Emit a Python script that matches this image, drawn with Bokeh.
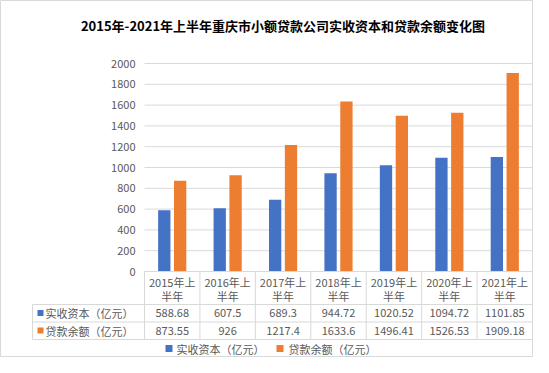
from bokeh.plotting import figure
from bokeh.models import ColumnDataSource, Range1d
from bokeh.transform import dodge
from bokeh.core.properties import value
from bokeh.embed import file_html
from bokeh.resources import INLINE

# ---------------- data ----------------
title_text = "2015年-2021年上半年重庆市小额贷款公司实收资本和贷款余额变化图"
header_line1 = ["2015年上", "2016年上", "2017年上", "2018年上", "2019年上", "2020年上", "2021年上"]
header_line2 = ["半年", "半年", "半年", "半年", "半年", "半年", "半年"]
paid_in = [588.68, 607.5, 689.3, 944.72, 1020.52, 1094.72, 1101.85]
loans = [873.55, 926, 1217.4, 1633.6, 1496.41, 1526.53, 1909.18]
paid_in_labels = ["588.68", "607.5", "689.3", "944.72", "1020.52", "1094.72", "1101.85"]
loans_labels = ["873.55", "926", "1217.4", "1633.6", "1496.41", "1526.53", "1909.18"]
series_names = ["实收资本（亿元）", "贷款余额（亿元）"]
y_ticks = [0, 200, 400, 600, 800, 1000, 1200, 1400, 1600, 1800, 2000]

# ---------------- layout (figure pixels) ----------------
W, H = 533, 357
CAT_L, CAT_R = 144, 532      # pixel x of category band edges
ZERO_PX, TOP_PX = 271, 63    # pixel y of value 0 and value 2000
N = len(header_line1)
XS = N / (CAT_R - CAT_L)
YS = 2000 / (ZERO_PX - TOP_PX)

def px_x(fx):
    return (fx - CAT_L) * XS

def px_y(fy):
    return (ZERO_PX - fy) * YS

BLUE = "#4472C4"
ORANGE = "#ED7D31"
GRID = "#D9D9D9"
TXT = "#595959"
FONT = value("Noto Sans CJK SC")

p = figure(width=W, height=H, x_range=Range1d(px_x(0), px_x(W)),
           y_range=Range1d(px_y(H), px_y(0)), x_axis_type=None, y_axis_type=None,
           min_border=0, toolbar_location=None, output_backend="svg")
p.outline_line_color = GRID
p.background_fill_color = "white"
p.border_fill_color = "white"

centers = [i + 0.5 for i in range(N)]
src = ColumnDataSource(dict(x=centers, paid=paid_in, loans=loans,
                            h1=header_line1, h2=header_line2,
                            pl=paid_in_labels, ll=loans_labels))

# gridlines
grid_y = y_ticks[1:]
p.segment(x0=[0] * len(grid_y), x1=[N] * len(grid_y), y0=grid_y, y1=grid_y,
          line_color=GRID, line_width=1)

# bars
bw = 0.222
off = 0.143
p.vbar(x=dodge("x", -off, range=p.x_range), top="paid", width=bw, source=src,
       fill_color=BLUE, line_color=None)
p.vbar(x=dodge("x", off, range=p.x_range), top="loans", width=bw, source=src,
       fill_color=ORANGE, line_color=None)

# y tick labels
p.text(x=[px_x(135)] * len(y_ticks), y=y_ticks, text=[str(t) for t in y_ticks],
       text_align="right", text_baseline="middle", text_font=FONT,
       text_font_size="11px", text_color=TXT)

# data table lines
row_top = px_y(271)
row_a = px_y(304)
row_b = px_y(321.5)
row_c = px_y(339)
left_x = px_x(32)
hx0 = [0, left_x, left_x, left_x]
hx1 = [N, N, N, N]
hy = [row_top, row_a, row_b, row_c]
p.segment(x0=hx0, x1=hx1, y0=hy, y1=hy, line_color=GRID, line_width=1)
vx = list(range(N + 1)) + [left_x]
vy0 = [row_top] * (N + 1) + [row_a]
vy1 = [row_c] * (N + 2)
p.segment(x0=vx, x1=vx, y0=vy0, y1=vy1, line_color=GRID, line_width=1)

# header text
p.text(x="x", y=px_y(281), text="h1", source=src, text_align="center",
       text_baseline="middle", text_font=FONT, text_font_size="11px", text_color=TXT)
p.text(x="x", y=px_y(295.5), text="h2", source=src, text_align="center",
       text_baseline="middle", text_font=FONT, text_font_size="11px", text_color=TXT)
p.text(x="x", y=px_y(312.5), text="pl", source=src, text_align="center",
       text_baseline="middle", text_font=FONT, text_font_size="11px", text_color=TXT)
p.text(x="x", y=px_y(330), text="ll", source=src, text_align="center",
       text_baseline="middle", text_font=FONT, text_font_size="11px", text_color=TXT)

# table row labels with swatches
p.scatter(x=[px_x(40)] * 2, y=[px_y(312.5), px_y(330)], marker="square", size=6,
          fill_color=[BLUE, ORANGE], line_color=None)
p.text(x=[px_x(45)] * 2, y=[px_y(312.5), px_y(330)], text=series_names,
       text_align="left", text_baseline="middle", text_font=FONT,
       text_font_size="11px", text_color=TXT)

# legend
p.scatter(x=[px_x(168.5), px_x(279.5)], y=[px_y(348)] * 2, marker="square", size=7,
          fill_color=[BLUE, ORANGE], line_color=None)
p.text(x=[px_x(176), px_x(288)], y=[px_y(348)] * 2, text=series_names,
       text_align="left", text_baseline="middle", text_font=FONT,
       text_font_size="11px", text_color=TXT)

# title
p.text(x=[px_x(282.5)], y=[px_y(25)], text=[title_text], text_align="center",
       text_baseline="middle", text_font=FONT, text_font_size="13px",
       text_font_style="bold", text_color="#000000")

open("out.html", "w").write(file_html(p, INLINE))
